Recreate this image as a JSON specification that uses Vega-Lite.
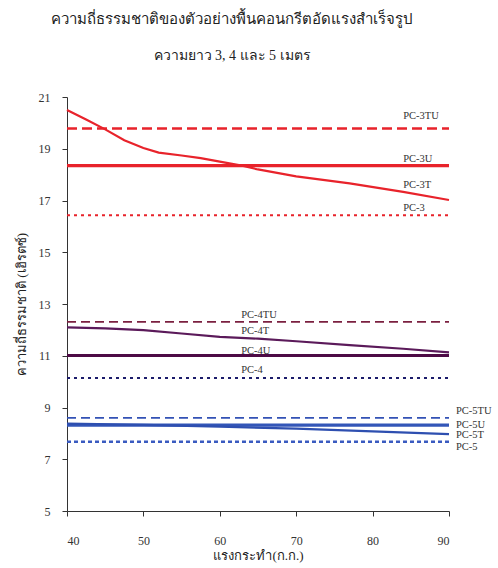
{
  "$schema": "https://vega.github.io/schema/vega-lite/v6.json",
  "width": 382,
  "height": 414,
  "autosize": "none",
  "padding": {"left": 67, "top": 97, "right": 49, "bottom": 57},
  "background": "white",
  "config": {"view": {"stroke": null}, "font": "Liberation Serif, serif"},
  "title": {
    "text": "ความถี่ธรรมชาติของตัวอย่างพื้นคอนกรีตอัดแรงสำเร็จรูป",
    "subtitle": "ความยาว 3, 4 และ 5 เมตร",
    "font": "Liberation Serif, serif",
    "fontSize": 15,
    "fontWeight": "normal",
    "color": "#222",
    "subtitleFont": "Liberation Serif, serif",
    "subtitleFontSize": 14,
    "subtitleColor": "#222",
    "subtitlePadding": 22,
    "anchor": "middle",
    "dx": -26,
    "offset": 28
  },
  "datasets": {
    "lines": [
      {"s": "PC-3TU", "x": 40, "y": 19.78}, {"s": "PC-3TU", "x": 90, "y": 19.78},
      {"s": "PC-3U", "x": 40, "y": 18.35}, {"s": "PC-3U", "x": 90, "y": 18.35},
      {"s": "PC-3", "x": 40, "y": 16.43}, {"s": "PC-3", "x": 90, "y": 16.43},
      {"s": "PC-3T", "x": 40, "y": 20.5}, {"s": "PC-3T", "x": 42.5, "y": 20.13}, {"s": "PC-3T", "x": 45, "y": 19.75},
      {"s": "PC-3T", "x": 47.5, "y": 19.33}, {"s": "PC-3T", "x": 50, "y": 19.03}, {"s": "PC-3T", "x": 52, "y": 18.85},
      {"s": "PC-3T", "x": 55, "y": 18.74}, {"s": "PC-3T", "x": 57.5, "y": 18.64}, {"s": "PC-3T", "x": 60, "y": 18.5},
      {"s": "PC-3T", "x": 62.5, "y": 18.37}, {"s": "PC-3T", "x": 65, "y": 18.2}, {"s": "PC-3T", "x": 70, "y": 17.93},
      {"s": "PC-3T", "x": 77, "y": 17.66}, {"s": "PC-3T", "x": 84, "y": 17.33}, {"s": "PC-3T", "x": 90, "y": 17.02},
      {"s": "PC-4TU", "x": 40, "y": 12.31}, {"s": "PC-4TU", "x": 90, "y": 12.31},
      {"s": "PC-4U", "x": 40, "y": 11.01}, {"s": "PC-4U", "x": 90, "y": 11.01},
      {"s": "PC-4", "x": 40, "y": 10.14}, {"s": "PC-4", "x": 90, "y": 10.14},
      {"s": "PC-4T", "x": 40, "y": 12.1}, {"s": "PC-4T", "x": 45, "y": 12.06}, {"s": "PC-4T", "x": 50, "y": 11.99},
      {"s": "PC-4T", "x": 55, "y": 11.86}, {"s": "PC-4T", "x": 60, "y": 11.73}, {"s": "PC-4T", "x": 65, "y": 11.66},
      {"s": "PC-4T", "x": 70, "y": 11.56}, {"s": "PC-4T", "x": 77, "y": 11.41}, {"s": "PC-4T", "x": 84, "y": 11.27},
      {"s": "PC-4T", "x": 90, "y": 11.13},
      {"s": "PC-5TU", "x": 40, "y": 8.6}, {"s": "PC-5TU", "x": 90, "y": 8.6},
      {"s": "PC-5U", "x": 40, "y": 8.32}, {"s": "PC-5U", "x": 90, "y": 8.32},
      {"s": "PC-5", "x": 40, "y": 7.68}, {"s": "PC-5", "x": 90, "y": 7.68},
      {"s": "PC-5T", "x": 40, "y": 8.38}, {"s": "PC-5T", "x": 50, "y": 8.33}, {"s": "PC-5T", "x": 60, "y": 8.26},
      {"s": "PC-5T", "x": 70, "y": 8.18}, {"s": "PC-5T", "x": 80, "y": 8.08}, {"s": "PC-5T", "x": 90, "y": 7.97}
    ],
    "labels": [
      {"s": "PC-3TU", "x": 84, "y": 20.25},
      {"s": "PC-3U", "x": 84, "y": 18.62},
      {"s": "PC-3T", "x": 84, "y": 17.61},
      {"s": "PC-3", "x": 84, "y": 16.71},
      {"s": "PC-4TU", "x": 62.8, "y": 12.59},
      {"s": "PC-4T", "x": 62.8, "y": 11.95},
      {"s": "PC-4U", "x": 62.8, "y": 11.18},
      {"s": "PC-4", "x": 62.8, "y": 10.44},
      {"s": "PC-5TU", "x": 90.9, "y": 8.88},
      {"s": "PC-5U", "x": 90.9, "y": 8.34},
      {"s": "PC-5T", "x": 90.9, "y": 7.92},
      {"s": "PC-5", "x": 90.9, "y": 7.46}
    ]
  },
  "encoding": {
    "x": {
      "field": "x", "type": "quantitative",
      "scale": {"domain": [40, 90], "nice": false, "zero": false},
      "axis": {
        "title": "แรงกระทำ(ก.ก.)", "values": [40, 50, 60, 70, 80, 90], "grid": false,
        "domainColor": "#333", "tickColor": "#333", "tickSize": 5,
        "labelFont": "Liberation Serif, serif", "labelFontSize": 12, "labelColor": "#333", "labelPadding": 19,
        "titleFont": "Liberation Serif, serif", "titleFontSize": 13, "titleFontWeight": "normal", "titleColor": "#222", "titlePadding": 3
      }
    },
    "y": {
      "field": "y", "type": "quantitative",
      "scale": {"domain": [5, 21], "nice": false, "zero": false},
      "axis": {
        "title": "ความถี่ธรรมชาติ (เฮิรตซ์)", "values": [5, 7, 9, 11, 13, 15, 17, 19, 21], "grid": false,
        "domainColor": "#333", "tickColor": "#333", "tickSize": 5,
        "labelFont": "Liberation Serif, serif", "labelFontSize": 12, "labelColor": "#333", "labelPadding": 12,
        "titleFont": "Liberation Serif, serif", "titleFontSize": 13, "titleFontWeight": "normal", "titleColor": "#222", "titlePadding": 10
      }
    },
    "color": {
      "field": "s", "type": "nominal", "legend": null,
      "scale": {
        "domain": ["PC-3TU", "PC-3U", "PC-3T", "PC-3", "PC-4TU", "PC-4T", "PC-4U", "PC-4", "PC-5TU", "PC-5U", "PC-5T", "PC-5"],
        "range": ["#e8232b", "#e8232b", "#e8232b", "#e8232b", "#7b2040", "#5b1a5a", "#4d0a45", "#1c1c6b", "#3352b5", "#3356b8", "#2e4fb0", "#3a5bc0"]
      }
    }
  },
  "layer": [
    {
      "data": {"name": "lines"},
      "transform": [{"filter": {"field": "s", "oneOf": ["PC-3U", "PC-4U", "PC-5U"]}}],
      "mark": {"type": "line", "strokeWidth": 3.2},
      "encoding": {"detail": {"field": "s"}}
    },
    {
      "data": {"name": "lines"},
      "transform": [{"filter": {"field": "s", "oneOf": ["PC-3T", "PC-4T", "PC-5T"]}}],
      "mark": {"type": "line", "strokeWidth": 2.2},
      "encoding": {"detail": {"field": "s"}}
    },
    {
      "data": {"name": "lines"},
      "transform": [{"filter": {"field": "s", "oneOf": ["PC-3TU"]}}],
      "mark": {"type": "line", "strokeWidth": 2.5, "strokeDash": [10, 5]},
      "encoding": {"detail": {"field": "s"}}
    },
    {
      "data": {"name": "lines"},
      "transform": [{"filter": {"field": "s", "oneOf": ["PC-4TU", "PC-5TU"]}}],
      "mark": {"type": "line", "strokeWidth": 1.8, "strokeDash": [9, 5]},
      "encoding": {"detail": {"field": "s"}}
    },
    {
      "data": {"name": "lines"},
      "transform": [{"filter": {"field": "s", "oneOf": ["PC-3", "PC-4"]}}],
      "mark": {"type": "line", "strokeWidth": 1.8, "strokeDash": [3, 4]},
      "encoding": {"detail": {"field": "s"}}
    },
    {
      "data": {"name": "lines"},
      "transform": [{"filter": {"field": "s", "oneOf": ["PC-5"]}}],
      "mark": {"type": "line", "strokeWidth": 2.5, "strokeDash": [4, 3]},
      "encoding": {"detail": {"field": "s"}}
    },
    {
      "data": {"name": "labels"},
      "mark": {"type": "text", "align": "left", "baseline": "middle", "font": "Liberation Serif, serif", "fontSize": 10.5, "color": "#333"},
      "encoding": {"text": {"field": "s"}, "color": {"value": "#333"}}
    }
  ]
}
